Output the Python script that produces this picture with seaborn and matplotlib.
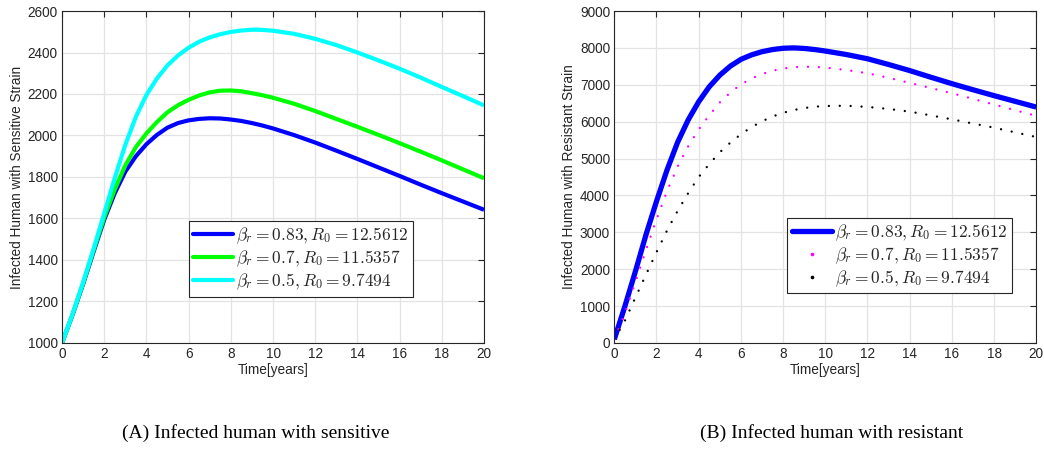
import numpy as np
import pandas as pd
import seaborn as sns
import matplotlib
matplotlib.use("Agg")
import matplotlib.pyplot as plt
from matplotlib.lines import Line2D

# ---------------- data ----------------
time = [0, 0.5, 1, 1.5, 2, 2.5, 3, 3.5, 4, 4.5, 5, 5.5, 6, 6.5, 7, 7.5, 8, 8.5, 9, 9.5, 10,
        11, 12, 13, 14, 15, 16, 17, 18, 19, 20]

sens_083 = [1000, 1136, 1284, 1441, 1594, 1722, 1826, 1900, 1958, 2003, 2038, 2060, 2073, 2080, 2083,
            2082, 2077, 2070, 2060, 2048, 2034, 2002, 1966, 1927, 1887, 1846, 1805, 1763, 1722, 1682, 1642]
sens_07 = [1000, 1138, 1288, 1448, 1605, 1740, 1856, 1944, 2010, 2065, 2112, 2146, 2172, 2193, 2208,
           2216, 2217, 2213, 2204, 2194, 2182, 2153, 2118, 2080, 2042, 2003, 1963, 1922, 1880, 1837, 1794]
sens_05 = [1000, 1140, 1292, 1455, 1625, 1795, 1955, 2090, 2195, 2275, 2338, 2386, 2423, 2452, 2473,
           2488, 2499, 2506, 2510, 2509, 2505, 2490, 2466, 2436, 2400, 2362, 2322, 2279, 2234, 2190, 2145]

res_083 = [100, 990, 1940, 2930, 3840, 4690, 5440, 6045, 6540, 6945, 7260, 7505, 7689, 7810, 7897,
           7955, 7990, 8000, 7985, 7955, 7915, 7820, 7705, 7550, 7385, 7205, 7030, 6865, 6705, 6550, 6395]
res_07 = [100, 800, 1650, 2520, 3350, 4120, 4780, 5330, 5790, 6170, 6520, 6790, 7010, 7170, 7290,
          7380, 7440, 7476, 7490, 7485, 7467, 7400, 7313, 7190, 7051, 6912, 6771, 6618, 6464, 6310, 6157]
res_05 = [100, 600, 1230, 1850, 2460, 3050, 3580, 4060, 4500, 4850, 5170, 5430, 5660, 5850, 6010,
          6140, 6240, 6315, 6370, 6405, 6425, 6432, 6400, 6345, 6272, 6170, 6063, 5950, 5837, 5710, 5584]

labels = [r"$\beta_r = 0.83, R_0 = 12.5612$",
          r"$\beta_r = 0.7, R_0 = 11.5357$",
          r"$\beta_r = 0.5, R_0 = 9.7494$"]
xticks = list(range(0, 21, 2))
yticks_left = list(range(1000, 2601, 200))
yticks_right = list(range(0, 9001, 1000))
captions = ["(A) Infected human with sensitive", "(B) Infected human with resistant"]

# ---------------- style ----------------
sns.set_theme(style="whitegrid")
plt.rcParams['font.family'] = ['Liberation Sans', 'DejaVu Sans']
plt.rcParams['mathtext.fontset'] = 'cm'

fig = plt.figure(figsize=(10.44, 4.51), dpi=100)
axL = fig.add_axes([0.0594, 0.2395, 0.4042, 0.7361])
axR = fig.add_axes([0.5884, 0.2395, 0.4042, 0.7361])

def style_axes(ax, yticks, ylabel):
    ax.set_xlim(0, 20)
    ax.set_ylim(yticks[0], yticks[-1])
    ax.set_xticks(xticks)
    ax.set_yticks(yticks)
    ax.set_facecolor('white')
    ax.grid(True, color='#e3e3e3', linewidth=0.9)
    ax.tick_params(direction='in', length=4, width=0.8, top=True, right=True,
                   labelsize=9.8, colors='#262626', pad=3)
    for s in ax.spines.values():
        s.set_color('#262626')
        s.set_linewidth(0.8)
    ax.set_xlabel("Time[years]", fontsize=9.8, color='#262626', labelpad=1)
    ax.set_ylabel(ylabel, fontsize=9.8, color='#262626', labelpad=3)

# left panel
dfL = pd.DataFrame({"t": time, "a": sens_083, "b": sens_07, "c": sens_05})
for col, colr in zip(["a", "b", "c"], ["#0000ff", "#00ff00", "#00ffff"]):
    sns.lineplot(data=dfL, x="t", y=col, ax=axL, color=colr, linewidth=3.0,
                 solid_capstyle='butt', solid_joinstyle='round', legend=False)
style_axes(axL, yticks_left, "Infected Human with Sensitive Strain")
hL = [Line2D([], [], color=c, linewidth=3.0) for c in ["#0000ff", "#00ff00", "#00ffff"]]
legL = axL.legend(hL, labels, loc='lower left', bbox_to_anchor=(0.30, 0.14), fontsize=12.5,
                  frameon=True, fancybox=False, edgecolor='#262626', framealpha=1,
                  handlelength=2.3, handletextpad=0.2, labelspacing=0.15, borderpad=0.25,
                  borderaxespad=0)
legL.get_frame().set_linewidth(0.8)

# right panel
dfR = pd.DataFrame({"t": time, "a": res_083, "b": res_07, "c": res_05})
sns.lineplot(data=dfR, x="t", y="a", ax=axR, color="#0000ff", linewidth=3.8,
             solid_capstyle='butt', solid_joinstyle='round', legend=False)
sns.lineplot(data=dfR, x="t", y="b", ax=axR, color="#ff00ff", linewidth=1.7,
             linestyle=(0, (0.01, 4.6)), dash_capstyle='round', legend=False)
sns.lineplot(data=dfR, x="t", y="c", ax=axR, color="black", linewidth=1.7,
             linestyle=(0, (0.01, 4.6)), dash_capstyle='round', legend=False)
style_axes(axR, yticks_right, "Infected Human with Resistant Strain")
hR = [Line2D([], [], color="#0000ff", linewidth=3.8),
      Line2D([], [], color="#ff00ff", linestyle='none', marker='o', markersize=1.6),
      Line2D([], [], color="black", linestyle='none', marker='o', markersize=1.6)]
legR = axR.legend(hR, labels, loc='lower left', bbox_to_anchor=(0.41, 0.15), fontsize=12.5,
                  frameon=True, fancybox=False, edgecolor='#262626', framealpha=1,
                  handlelength=2.3, handletextpad=0.2, labelspacing=0.15, borderpad=0.25,
                  borderaxespad=0)
legR.get_frame().set_linewidth(0.8)

# captions
fig.text(0.245, 0.04, captions[0], ha='center', va='center', fontsize=14,
         family=['Liberation Serif', 'DejaVu Serif'], color='black')
fig.text(0.797, 0.04, captions[1], ha='center', va='center', fontsize=14,
         family=['Liberation Serif', 'DejaVu Serif'], color='black')

fig.savefig("out.png", dpi=100)
